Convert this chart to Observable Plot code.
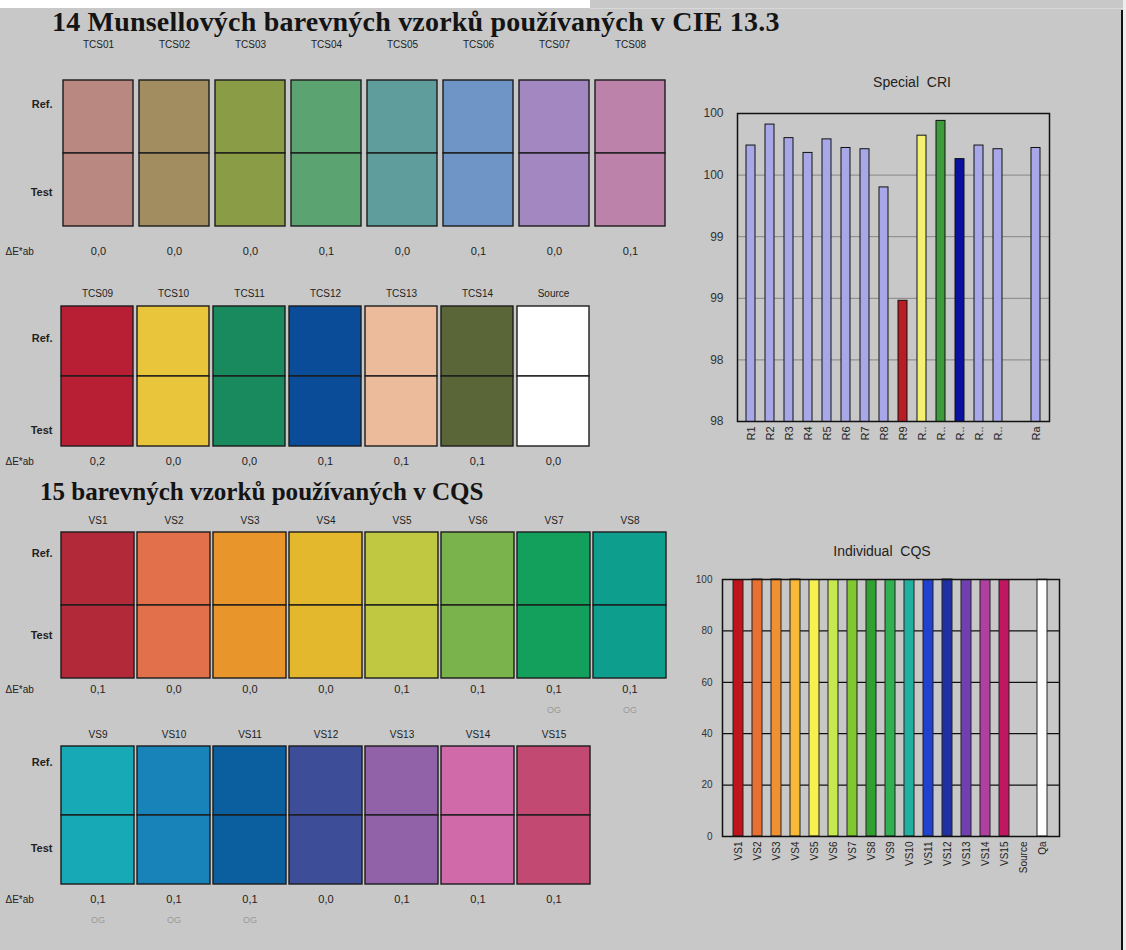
<!DOCTYPE html>
<html><head><meta charset="utf-8">
<script src="https://cdn.jsdelivr.net/npm/d3@7"></script>
<script src="https://cdn.jsdelivr.net/npm/@observablehq/plot@0.6"></script>
<style>
body{margin:0;background:#c8c8c8;width:1126px;height:950px;position:relative;overflow:hidden;font-family:"Liberation Sans",Arial,sans-serif}
.abs{position:absolute}
.title{font-family:"Liberation Serif","Times New Roman",serif;font-weight:bold;line-height:1;color:#141414;white-space:nowrap;transform-origin:0 0}
.ctitle{font-size:14px;color:#222;white-space:nowrap;transform:translateX(-50%);line-height:1}
</style></head><body>
<div class="abs" style="left:0;top:0;width:590px;height:8px;background:#fff"></div>
<div class="abs" style="left:590px;top:8px;width:536px;height:1px;background:#d8d8d8"></div>
<div class="abs" style="left:1121px;top:10px;width:2px;height:940px;background:#111"></div>
<div class="abs" style="left:1123px;top:0;width:3px;height:950px;background:#eee"></div>
<div class="abs title" style="left:52px;top:8px;font-size:28px;letter-spacing:0.2px">14 Munsellových barevných vzorků používaných v CIE 13.3</div>
<div class="abs title" style="left:40px;top:479px;font-size:26px;transform:scaleX(0.965)">15 barevných vzorků používaných v CQS</div>
<div class="abs ctitle" style="left:912px;top:75px">Special&nbsp; CRI</div>
<div class="abs ctitle" style="left:882px;top:544px">Individual&nbsp; CQS</div>
<div id="row1" class="abs" style="left:0;width:680px"></div>
<div id="row2" class="abs" style="left:0;width:680px"></div>
<div id="row3" class="abs" style="left:0;width:680px"></div>
<div id="row4" class="abs" style="left:0;width:680px"></div>
<div id="cri" class="abs" style="left:680px;top:60px;width:446px"></div>
<div id="cqs" class="abs" style="left:680px;top:540px;width:446px"></div>
<script>
// ---- data ----
const rowLabels = ["Ref.", "Test"];

const tcsNames1 = ["TCS01","TCS02","TCS03","TCS04","TCS05","TCS06","TCS07","TCS08"];
const tcsColors1 = ["#b98880","#a18d5f","#8a9c45","#5ba371","#5f9c9c","#6f95c6","#a287c0","#bc82aa"];
const tcsDE1 = ["0,0","0,0","0,0","0,1","0,0","0,1","0,0","0,1"];

const tcsNames2 = ["TCS09","TCS10","TCS11","TCS12","TCS13","TCS14","Source"];
const tcsColors2 = ["#b81f34","#e9c53b","#188a5d","#0b4c98","#ebbb9c","#5a6638","#ffffff"];
const tcsDE2 = ["0,2","0,0","0,0","0,1","0,1","0,1","0,0"];

const vsNames1 = ["VS1","VS2","VS3","VS4","VS5","VS6","VS7","VS8"];
const vsColors1 = ["#b22a3a","#e2704a","#e8962c","#e3b82c","#c0c842","#7ab24c","#12a05c","#0e9e8e"];
const vsDE1 = ["0,1","0,0","0,0","0,0","0,1","0,1","0,1","0,1"];
const vsOG1 = ["","","","","","","OG","OG"];

const vsNames2 = ["VS9","VS10","VS11","VS12","VS13","VS14","VS15"];
const vsColors2 = ["#17a9b5","#1783b8","#0b5f9e","#3e4d98","#9162a8","#d06aa8","#c24a72"];
const vsDE2 = ["0,1","0,1","0,1","0,0","0,1","0,1","0,1"];
const vsOG2 = ["OG","OG","OG","","","",""];

const criNames = ["R1","R2","R3","R4","R5","R6","R7","R8","R9","R10","R11","R12","R13","R14","","Ra"];
const criValues = [99.74,99.91,99.80,99.68,99.79,99.72,99.71,99.40,98.48,99.82,99.94,99.63,99.74,99.71,null,99.72];
const criColors = ["#a8a8e8","#a8a8e8","#a8a8e8","#a8a8e8","#a8a8e8","#a8a8e8","#a8a8e8","#a8a8e8","#b81c24","#f6f070","#3c9c3c","#0a10a0","#a8a8e8","#a8a8e8",null,"#a8a8e8"];
const criTicks = [97.5, 98, 98.5, 99, 99.5, 100];

const cqsNames = ["VS1","VS2","VS3","VS4","VS5","VS6","VS7","VS8","VS9","VS10","VS11","VS12","VS13","VS14","VS15","Source","Qa"];
const cqsValues = [99.8,100,100,100,99.8,99.8,99.8,99.8,99.8,99.8,99.8,100,99.8,99.8,99.8,null,99.9];
const cqsColors = ["#c0141c","#e87030","#f09030","#f8b838","#f8f050","#c8e850","#80c830","#30a030","#30b050","#20b0a0","#2040d0","#2030a0","#7040b0","#b040a0","#c01860",null,"#ffffff"];
const cqsTicks = [0, 20, 40, 60, 80, 100];

const FONT = "Liberation Sans, Arial, sans-serif";

function swatchRow(el, cfg) {
  const {names, colors, dE, og, top, xLeft, xRight, pad, yTop, yBot, labelY, refY, testY, dEY, ogY} = cfg;
  const W = 680;
  const H = (ogY || dEY) + 12 - top;
  const cells = names.flatMap((n, i) => rowLabels.map(r => ({name: n, row: r, color: colors[i]})));
  const vals = names.map((n, i) => ({name: n, dE: dE[i], og: og ? og[i] : ""}));
  const marks = [
    Plot.cell(cells, {x: "name", y: "row", fill: "color", stroke: "#1c1c1c", strokeWidth: 1.4}),
    Plot.axisX({anchor: "top", tickSize: 0, tickPadding: yTop - labelY - 5, fontSize: 10, fill: "#222", label: null}),
    Plot.text([rowLabels[0]], {text: d => d, frameAnchor: "top-left", dx: 52 - xLeft, dy: refY - yTop, textAnchor: "end", fontWeight: "bold", fontSize: 11, fill: "#222"}),
    Plot.text([rowLabels[1]], {text: d => d, frameAnchor: "top-left", dx: 52 - xLeft, dy: testY - yTop, textAnchor: "end", fontWeight: "bold", fontSize: 11, fill: "#222"}),
    Plot.text(["ΔE*ab"], {text: d => d, frameAnchor: "bottom-left", dx: 5 - xLeft, dy: dEY - yBot, textAnchor: "start", fontSize: 10, fill: "#222"}),
    Plot.text(vals, {x: "name", text: "dE", frameAnchor: "bottom", dy: dEY - yBot, fontSize: 11, fill: "#222"})
  ];
  if (og) marks.push(Plot.text(vals, {x: "name", text: "og", frameAnchor: "bottom", dy: ogY - yBot, fontSize: 9, fill: "#999"}));
  const plot = Plot.plot({
    width: W, height: H,
    marginLeft: xLeft, marginRight: W - xRight, marginTop: yTop - top, marginBottom: top + H - yBot,
    style: {background: "transparent", overflow: "visible", fontFamily: FONT},
    x: {type: "band", domain: names, paddingInner: pad, paddingOuter: 0},
    y: {type: "band", domain: rowLabels, padding: 0, axis: null},
    color: {type: "identity"},
    marks
  });
  el.style.top = top + "px";
  el.append(plot);
}

swatchRow(document.getElementById("row1"), {names: tcsNames1, colors: tcsColors1, dE: tcsDE1, top: 30,
  xLeft: 62, xRight: 666, pad: 0.085, yTop: 79, yBot: 226, labelY: 42, refY: 100, testY: 188, dEY: 254});
swatchRow(document.getElementById("row2"), {names: tcsNames2, colors: tcsColors2, dE: tcsDE2, top: 276,
  xLeft: 60, xRight: 590, pad: 0.05, yTop: 305, yBot: 446, labelY: 291, refY: 334, testY: 426, dEY: 464});
swatchRow(document.getElementById("row3"), {names: vsNames1, colors: vsColors1, dE: vsDE1, og: vsOG1, top: 505,
  xLeft: 60, xRight: 666, pad: 0.045, yTop: 532, yBot: 678, labelY: 518, refY: 549, testY: 631, dEY: 692, ogY: 712});
swatchRow(document.getElementById("row4"), {names: vsNames2, colors: vsColors2, dE: vsDE2, og: vsOG2, top: 722,
  xLeft: 60, xRight: 590, pad: 0.045, yTop: 746, yBot: 884, labelY: 732, refY: 758, testY: 844, dEY: 902, ogY: 922});

// ---- Special CRI ----
const criData = criNames.map((n, i) => ({name: n, value: criValues[i], color: criColors[i]})).filter(d => d.value != null);
document.getElementById("cri").append(Plot.plot({
  width: 446, height: 410, marginLeft: 57, marginRight: 77, marginTop: 53, marginBottom: 49,
  style: {background: "transparent", overflow: "visible", fontFamily: FONT},
  x: {type: "band", domain: criNames, paddingInner: 0.55, paddingOuter: 0.275},
  y: {domain: [97.5, 100]},
  color: {type: "identity"},
  marks: [
    Plot.gridY(criTicks, {stroke: "#858585", strokeOpacity: 1}),
    Plot.barY(criData, {x: "name", y: "value", fill: "color", stroke: "#111", strokeWidth: 1, clip: true}),
    Plot.frame({stroke: "#111", strokeWidth: 1.5}),
    Plot.axisY({ticks: criTicks, tickFormat: d3.format(".0f"), tickSize: 0, tickPadding: 14, fontSize: 12, fill: "#333", label: null}),
    Plot.axisX({tickRotate: -90, tickSize: 0, tickPadding: 5, fontSize: 11, fill: "#222", label: null,
      tickFormat: d => d.length > 2 ? d.slice(0, 1) + ".." : d})
  ]
}));

// ---- Individual CQS ----
const cqsData = cqsNames.map((n, i) => ({name: n, value: cqsValues[i], color: cqsColors[i]})).filter(d => d.value != null);
document.getElementById("cqs").append(Plot.plot({
  width: 446, height: 360, marginLeft: 42, marginRight: 67, marginTop: 39, marginBottom: 64,
  style: {background: "transparent", overflow: "visible", fontFamily: FONT},
  x: {type: "band", domain: cqsNames, paddingInner: 0.45, paddingOuter: 0.225},
  y: {domain: [0, 100]},
  color: {type: "identity"},
  marks: [
    Plot.gridY(cqsTicks, {stroke: "#111", strokeOpacity: 1, strokeWidth: 1.2}),
    Plot.barY(cqsData, {x: "name", y: "value", fill: "color", stroke: "#222", strokeWidth: 1}),
    Plot.frame({stroke: "#111", strokeWidth: 1.5}),
    Plot.axisY({ticks: cqsTicks, tickSize: 0, tickPadding: 10, fontSize: 10, fill: "#333", label: null}),
    Plot.axisX({tickRotate: -90, tickSize: 0, tickPadding: 5, fontSize: 10, fill: "#222", label: null})
  ]
}));
</script>
</body></html>
